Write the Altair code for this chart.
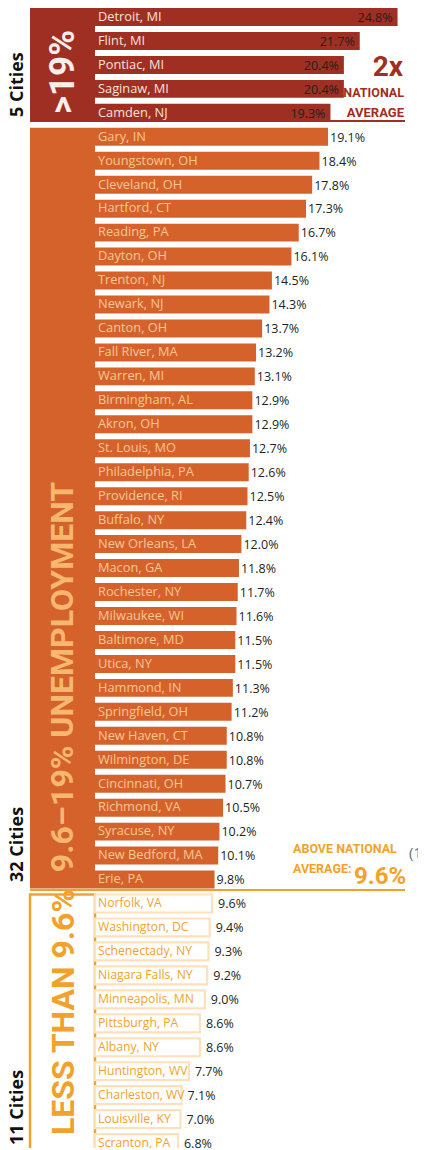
import altair as alt
import pandas as pd

# ---------------- data ----------------
high_cities = ["Detroit, MI", "Flint, MI", "Pontiac, MI", "Saginaw, MI", "Camden, NJ"]
high_values = [24.8, 21.7, 20.4, 20.4, 19.3]

mid_cities = ["Gary, IN", "Youngstown, OH", "Cleveland, OH", "Hartford, CT", "Reading, PA",
              "Dayton, OH", "Trenton, NJ", "Newark, NJ", "Canton, OH", "Fall River, MA",
              "Warren, MI", "Birmingham, AL", "Akron, OH", "St. Louis, MO", "Philadelphia, PA",
              "Providence, RI", "Buffalo, NY", "New Orleans, LA", "Macon, GA", "Rochester, NY",
              "Milwaukee, WI", "Baltimore, MD", "Utica,  NY", "Hammond, IN", "Springfield, OH",
              "New Haven, CT", "Wilmington, DE", "Cincinnati, OH", "Richmond, VA", "Syracuse, NY",
              "New Bedford, MA", "Erie, PA"]
mid_values = [19.1, 18.4, 17.8, 17.3, 16.7, 16.1, 14.5, 14.3, 13.7, 13.2,
              13.1, 12.9, 12.9, 12.7, 12.6, 12.5, 12.4, 12.0, 11.8, 11.7,
              11.6, 11.5, 11.5, 11.3, 11.2, 10.8, 10.8, 10.7, 10.5, 10.2,
              10.1, 9.8]

low_cities = ["Norfolk, VA", "Washington, DC", "Schenectady, NY", "Niagara Falls, NY",
              "Minneapolis,  MN", "Pittsburgh, PA", "Albany, NY", "Huntington, WV",
              "Charleston, WV", "Louisville, KY", "Scranton, PA"]
low_values = [9.6, 9.4, 9.3, 9.2, 9.0, 8.6, 8.6, 7.7, 7.1, 7.0, 6.8]

group_keys = ["high", "mid", "low"]
group_titles = [">19%", "9.6\u201319% UNEMPLOYMENT", "LESS THAN 9.6%"]
group_counts_text = ["5 Cities", "32 Cities", "11 Cities"]

# ---------------- layout constants ----------------
W, H = 410, 1140
PITCH = 23.96          # px per row
PXPCT = 12.2           # px per percentage point
ZERO_PX = 87           # plot x of value 0
BAR = 0.75             # bar thickness in rows


def xv(page_x):
    return (page_x - 8 - ZERO_PX) / PXPCT


def yr(page_y):
    return (page_y - 6) / PITCH


xs = alt.Scale(domain=[-ZERO_PX / PXPCT, (W - ZERO_PX) / PXPCT], range=[0, W], nice=False, zero=False)
ys = alt.Scale(domain=[0, H / PITCH], range=[0, H], nice=False, zero=False)

DARK = "#9E2F22"
ORANGE = "#D5622A"
GOLD = "#F2A22C"
NARROW = "Roboto"
BODY = "Open Sans"
GROUP_FILL = {"high": DARK, "mid": ORANGE}
NAME_COLOR = {"high": "#F6E3DE", "mid": "#F8C796", "low": GOLD}
NAME_SIZE = {"high": 12.8, "mid": 12.8, "low": 12.2}

# ---------------- tables ----------------
recs = []
r = 0
for g, cities, vals in zip(group_keys, [high_cities, mid_cities, low_cities],
                           [high_values, mid_values, low_values]):
    for c, v in zip(cities, vals):
        recs.append({"city": c, "value": v, "zero": 0.0, "group": g, "row": r,
                     "row2": r + BAR, "ny": r + 12.8 / PITCH, "vy": r + 13.8 / PITCH,
                     "label": f"{v:.1f}%"})
        r += 1
df = pd.DataFrame(recs)

starts = df.groupby("group")["row"].min()
ends = df.groupby("group")["row"].max()


def X(field="value"):
    return alt.X(f"{field}:Q", scale=xs, axis=None)


def Y(field="row"):
    return alt.Y(f"{field}:Q", scale=ys, axis=None)


layers = []

# group boxes
for g in ["high", "mid"]:
    b = pd.DataFrame({"x0": [xv(30)], "x1": [0.0], "y0": [starts[g]], "y1": [ends[g] + BAR]})
    layers.append(alt.Chart(b).mark_rect(color=GROUP_FILL[g]).encode(
        x=X("x0"), x2="x1:Q", y=Y("y0"), y2="y1:Q"))
b = pd.DataFrame({"x0": [xv(30)], "x1": [0.0], "y0": [starts["low"]], "y1": [yr(1200)]})
layers.append(alt.Chart(b).mark_rect(fill="white", stroke=GOLD, strokeWidth=2.5).encode(
    x=X("x0"), x2="x1:Q", y=Y("y0"), y2="y1:Q"))

# separators
for yy, col in [(yr(119), DARK), (yr(888), GOLD)]:
    s = pd.DataFrame({"x0": [xv(30)], "x1": [xv(405)], "y": [yy]})
    layers.append(alt.Chart(s).mark_rule(strokeWidth=2, color=col).encode(
        x=X("x0"), x2="x1:Q", y=Y("y")))

# bars
for g in ["high", "mid"]:
    layers.append(alt.Chart(df[df.group == g]).mark_rect(color=GROUP_FILL[g]).encode(
        x=X("zero"), x2="value:Q", y=Y("row"), y2="row2:Q"))
layers.append(alt.Chart(df[df.group == "low"]).mark_rect(fill="white", stroke="#FCE1BC", strokeWidth=2.2).encode(
    x=X("zero"), x2="value:Q", y=Y("row"), y2="row2:Q"))

# city names
for g in group_keys:
    layers.append(alt.Chart(df[df.group == g]).mark_text(
        align="left", baseline="alphabetic", dx=3, fontSize=NAME_SIZE[g], font=BODY, color=NAME_COLOR[g]).encode(
        x=X("zero"), y=Y("ny"), text="city:N"))

# value labels
for g, align, dx in [("high", "right", -5), ("mid", "left", 2), ("low", "left", 6)]:
    layers.append(alt.Chart(df[df.group == g]).mark_text(
        align=align, baseline="alphabetic", dx=dx, fontSize=12.5, font=BODY, color="#231F20").encode(
        x=X("value"), y=Y("vy"), text="label:N"))


def note(text, x, y, **style):
    d = pd.DataFrame({"t": [text], "x": [x], "y": [y]})
    return alt.Chart(d).mark_text(**style).encode(x=X("x"), y=Y("y"), text="t:N")


# big rotated group titles
layers.append(note(group_titles[0], xv(63), yr(70), angle=270, align="center", baseline="middle",
                   font=NARROW, fontWeight="bold", fontSize=35, color="#FBEDEA"))
layers.append(note(group_titles[1], xv(63), yr(675), angle=270, align="center", baseline="middle",
                   font=NARROW, fontWeight="bold", fontSize=32, color="#F6B870"))
layers.append(note(group_titles[2], xv(64), yr(1010), angle=270, align="center", baseline="middle",
                   font=NARROW, fontWeight="bold", fontSize=32, color=GOLD))

# city counts
for txt, yb in zip(group_counts_text, [115, 880, 1143]):
    layers.append(note(txt, xv(18), yr(yb), angle=270, align="left", baseline="middle",
                       font=BODY, fontWeight="bold", fontSize=18, color="#111111"))

# 2x national average
layers.append(note("2x", xv(403), yr(74), align="right", baseline="alphabetic",
                   font=NARROW, fontWeight="bold", fontSize=28, color=DARK))
layers.append(note("NATIONAL", xv(404), yr(95), align="right", baseline="alphabetic",
                   font=NARROW, fontWeight="bold", fontSize=12.5, color=DARK))
layers.append(note("AVERAGE", xv(404), yr(115), align="right", baseline="alphabetic",
                   font=NARROW, fontWeight="bold", fontSize=13, color=DARK))

# above national average
layers.append(note("ABOVE NATIONAL", xv(293), yr(851), align="left", baseline="alphabetic",
                   font=NARROW, fontWeight="bold", fontSize=12.5, color=GOLD))
layers.append(note("AVERAGE:", xv(293), yr(871), align="left", baseline="alphabetic",
                   font=NARROW, fontWeight="bold", fontSize=12.5, color=GOLD))
layers.append(note("9.6%", xv(354), yr(882), align="left", baseline="alphabetic",
                   font=NARROW, fontWeight="bold", fontSize=24, color=GOLD))
layers.append(note("(1)", xv(409), yr(856), align="left", baseline="alphabetic",
                   font=BODY, fontSize=15, color="#6D6E71"))

chart = alt.layer(*layers).properties(
    width=W, height=H,
    autosize=alt.AutoSizeParams(type="none"),
    padding=0,
).configure_view(stroke=None)

chart.save("out.html", embed_options={"renderer": "svg", "actions": False})
